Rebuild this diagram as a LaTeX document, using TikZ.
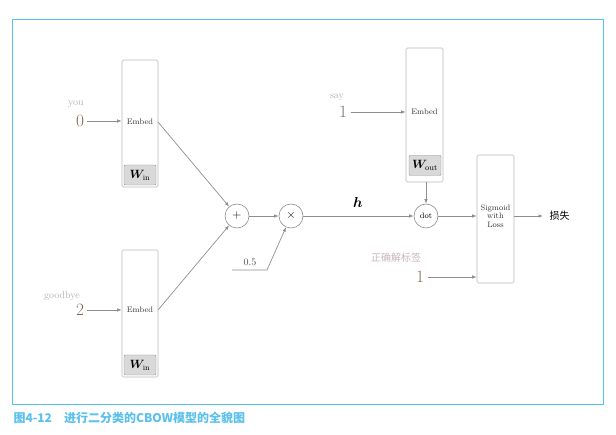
\documentclass[tikz,border=0pt]{standalone}
\usepackage{amsmath,bm}
\usepackage{fontspec}
\newfontfamily\cjk{Noto Sans CJK SC}
\usetikzlibrary{arrows.meta}
\definecolor{frameblue}{HTML}{5BC0EB}
\definecolor{numc}{HTML}{7A6A5A}
\definecolor{lab}{HTML}{B0B0B8}
\definecolor{ln}{HTML}{8E8E8E}
\tikzset{
  box/.style={draw=lab!90,rounded corners=1.5pt,minimum width=36pt,line width=0.6pt},
  wbox/.style={draw=ln,fill=gray!30,rounded corners=1pt,inner sep=1pt,minimum width=32pt,minimum height=20pt,font=\large},
  op/.style={draw=ln,circle,minimum size=24pt,inner sep=0pt,line width=0.6pt,font=\large},
  arr/.style={draw=ln,line width=0.7pt,-{Latex[length=4.5pt,width=3.5pt]}},
  num/.style={text=numc,font=\LARGE},
  lbl/.style={text=lab,font=\normalsize},
  small/.style={font=\footnotesize,text=black!80}
}
\begin{document}
\begin{tikzpicture}[x=1pt,y=-1pt]
\useasboundingbox (0,0) rectangle (616,435);
\draw[frameblue,line width=1pt] (12,20) rectangle (603,405);
\node[anchor=west,text=frameblue,font=\cjk\bfseries\large] (cap) at (10,418) {图4-12\quad 进行二分类的CBOW模型的全貌图};
% embed boxes
\node[box,minimum height=127pt] (e1) at (140,123.5) {};
\node[small] (e1t) at (140,122) {Embed};
\node[wbox] (w1) at (140,175) {$\bm{W}_{\mathrm{in}}$};
\node[box,minimum height=127pt] (e2) at (140,313.5) {};
\node[small] (e2t) at (140,310) {Embed};
\node[wbox] (w2) at (140,365) {$\bm{W}_{\mathrm{in}}$};
\node[box,minimum height=134pt,minimum width=37pt] (eo) at (424.5,115) {};
\node[small] (eot) at (424.5,112) {Embed};
\node[wbox,minimum width=32pt] (wo) at (425,165.5) {$\bm{W}_{\mathrm{out}}$};
\node[box,minimum height=128pt,minimum width=37pt] (sg) at (495.5,219) {};
\node[small,align=center,font=\footnotesize\linespread{0.9}\selectfont] (sgt) at (495.5,216) {Sigmoid\\with\\Loss};
% inputs
\node[lbl] (you) at (76,104) {you};
\node[num] (n0) at (80,121) {0};
\node[lbl] (gb) at (62,296) {goodbye};
\node[num] (n2) at (80,310) {2};
\node[lbl] (say) at (337,97) {say};
\node[num] (n1) at (343,112) {1};
\node[lbl,text=lab!70!pink,font=\cjk\normalsize] (zq) at (396,258) {正确解标签};
\node[num] (n3) at (420,277) {1};
\coordinate (e1r) at (158,122);
\coordinate (e2r) at (158,310);
\draw[arr] (n0) -- (e1.west|-n0);
\draw[arr] (n2) -- (e2.west|-n2);
\draw[arr] (n1) -- (eo.west|-n1);
\draw[arr] (n3) -- (sg.west|-n3);
% ops
\node[op] (plus) at (237,216) {$+$};
\node[op] (times) at (291,216) {$\times$};
\node[op,font=\footnotesize] (dot) at (426,216) {dot};
\draw[arr] (e1r) -- (plus);
\draw[arr] (e2r) -- (plus);
\draw[arr] (plus) -- (times);
\coordinate (h0) at (232,270);
\coordinate (h1) at (267,270);
\node[text=black!70] (half) at (250,262) {0.5};
\draw[arr] (h0) -- (h1) -- (times);
\draw[arr] (times) -- (dot);
\node[font=\Large] (h) at (358,203) {$\bm{h}$};
\draw[arr] (eo.south-|dot) -- (dot);
\draw[arr] (dot) -- (sg.west|-dot);
\coordinate (out) at (543,216);
\draw[arr] (sg.east|-dot) -- (out);
\node[anchor=west,font=\cjk\normalsize] (loss) at (546,216) {损失};
\end{tikzpicture}
\end{document}
